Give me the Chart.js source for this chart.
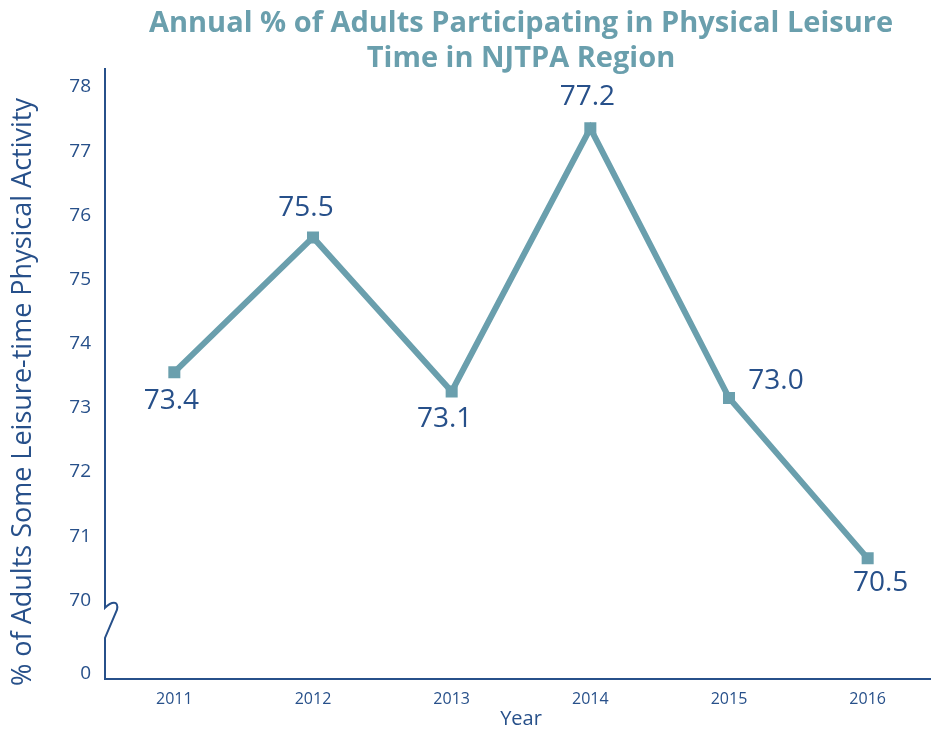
<!DOCTYPE html>
<html>
<head>
<meta charset="utf-8">
<script src="https://cdn.jsdelivr.net/npm/chart.js@4/dist/chart.umd.min.js"></script>
<style>
    html, body { margin: 0; padding: 0; background: #ffffff; overflow: hidden; }
    canvas { display: block; }
</style>
</head>
<body>
<canvas id="myChart" width="937" height="729"></canvas>
<script>
const years = ['2011', '2012', '2013', '2014', '2015', '2016'];
const pctActive = [73.4, 75.5, 73.1, 77.2, 73.0, 70.5];
const yTicks = [70, 71, 72, 73, 74, 75, 76, 77, 78];
const zeroTickAt = 68.86;   // the "0" label sits below the axis break
const breakFrom = 69.26;
const breakTo = 69.73;

// where each value label sits relative to its point
const labelShift = [[-3, 29], [-7, -29], [-7, 28], [-3, -31], [47, -17], [13, 25]];

const navy = '#27508a';
const teal = '#6a9fad';
const fontFamily = 'Open Sans';

const ctx = document.getElementById('myChart');

const axisBreak = {
    id: 'axisBreak',
    afterDraw(chart) {
        const c = chart.ctx;
        const y = chart.scales.y;
        const area = chart.chartArea;
        const x = area.left;
        const yTop = y.getPixelForValue(breakTo);
        const yBot = y.getPixelForValue(breakFrom);

        c.save();
        c.strokeStyle = navy;
        c.lineWidth = 2;
        c.beginPath();
        c.moveTo(x, area.top);
        c.lineTo(x, yTop);
        c.bezierCurveTo(x + 6, yTop - 6, x + 14, yTop - 8, x + 12, yTop + 2);
        c.lineTo(x, yBot);
        c.lineTo(x, area.bottom);
        c.stroke();

        // y axis title
        c.fillStyle = navy;
        c.font = '27px ' + fontFamily;
        c.textAlign = 'center';
        c.textBaseline = 'middle';
        c.translate(23, 392);
        c.rotate(-Math.PI / 2);
        c.fillText('% of Adults Some Leisure-time Physical Activity', 0, 0);
        c.restore();
    }
};

const valueLabels = {
    id: 'valueLabels',
    afterDatasetsDraw(chart) {
        const c = chart.ctx;
        const meta = chart.getDatasetMeta(0);
        c.save();
        c.fillStyle = navy;
        c.font = '28px ' + fontFamily;
        c.textAlign = 'center';
        c.textBaseline = 'middle';
        meta.data.forEach(function (pt, i) {
            c.fillText(pctActive[i].toFixed(1), pt.x + labelShift[i][0], pt.y + labelShift[i][1]);
        });
        c.restore();
    }
};

let cfg = {
    type: 'line',
    data: {
        labels: years,
        datasets: [{
            data: pctActive,
            borderColor: teal,
            borderWidth: 6,
            backgroundColor: teal,
            pointStyle: 'rect',
            pointRadius: 8.5,
            pointBorderWidth: 0,
            pointBackgroundColor: teal,
            tension: 0
        }]
    },
    options: {
        responsive: false,
        animation: false,
        layout: {
            autoPadding: false,
            padding: 0
        },
        plugins: {
            legend: { display: false },
            tooltip: { enabled: false },
            title: {
                display: true,
                fullSize: false,
                text: ['Annual % of Adults Participating in Physical Leisure', 'Time in NJTPA Region'],
                color: teal,
                padding: { top: 6.5, bottom: -8.5 },
                font: {
                    family: fontFamily,
                    size: 29,
                    weight: 'bold',
                    lineHeight: 35 / 29
                }
            }
        },
        scales: {
            x: {
                offset: true,
                grid: { display: false, drawTicks: false },
                border: { display: true, color: navy, width: 2 },
                ticks: {
                    color: navy,
                    padding: 11,
                    font: { family: fontFamily, size: 16 }
                },
                title: {
                    display: true,
                    text: 'Year',
                    color: navy,
                    padding: { top: 0, bottom: -2 },
                    font: { family: fontFamily, size: 20 }
                },
                afterFit: function (scale) {
                    scale.height = 50;
                }
            },
            y: {
                min: 68.62,
                max: 78.14,
                grid: { display: false, drawTicks: false },
                border: { display: false },
                ticks: {
                    color: navy,
                    padding: 14,
                    labelOffset: 10,
                    font: { family: fontFamily, size: 19 },
                    callback: function (value) {
                        return value < 69 ? '0' : value;
                    }
                },
                afterBuildTicks: function (scale) {
                    scale.ticks = [zeroTickAt].concat(yTicks).map(function (v) {
                        return { value: v };
                    });
                },
                afterFit: function (scale) {
                    scale.width = 105;
                }
            }
        }
    },
    plugins: [axisBreak, valueLabels]
};

let myChart = new Chart(ctx, cfg);
</script>
</body>
</html>
